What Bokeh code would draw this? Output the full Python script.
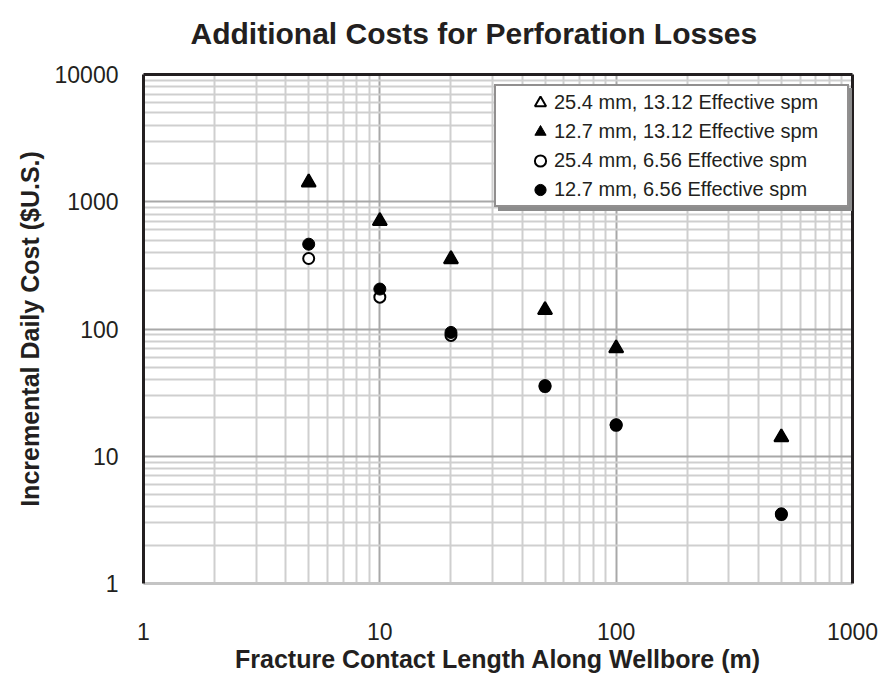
from bokeh.plotting import figure
from bokeh.models import (Range1d, FixedTicker, LogAxis, Legend, LegendItem,
                          CustomJSTickFormatter)
from bokeh.embed import file_html
from bokeh.resources import INLINE

# ---- data ----
length_m = [5, 10, 20, 50, 100, 500]
cost_254_1312 = [1420, 706, 354, 141, 70.6, 14.1]
cost_127_1312 = [1420, 706, 354, 141, 70.6, 14.1]
cost_254_656 = [358, 178, 89, 35.3, 17.5, 3.48]
cost_127_656 = [464, 206, 94, 35.9, 17.7, 3.53]

series_labels = [
    "25.4 mm, 13.12 Effective spm",
    "12.7 mm, 13.12 Effective spm",
    "25.4 mm, 6.56 Effective spm",
    "12.7 mm, 6.56 Effective spm",
]

x_ticks = [1, 10, 100, 1000]
y_ticks = [1, 10, 100, 1000, 10000]
mantissas = [2, 3, 4, 5, 6, 7, 8, 9]

x_minor = [m * d for d in x_ticks[:-1] for m in mantissas]
y_minor = [m * d for d in y_ticks[:-1] for m in mantissas]

FONT = "Liberation Sans"
DARK = "#231f20"

p = figure(width=883, height=675, x_axis_type="log", y_axis_type="log",
           x_range=Range1d(1, 1000), y_range=Range1d(1, 10000),
           output_backend="svg", toolbar_location=None,
           min_border_left=143, min_border_right=31,
           min_border_top=74, min_border_bottom=91)
p.outline_line_color = None
p.background_fill_color = "white"
p.border_fill_color = "white"

# title
p.title.text = "Additional Costs for Perforation Losses"
p.title.text_font = FONT
p.title.text_font_size = "30px"
p.title.text_font_style = "bold"
p.title.text_color = DARK
p.title.align = "left"
p.title.offset = 47
p.title.standoff = 10

# axes
fmt = CustomJSTickFormatter(code="return tick.toString()")
p.xaxis.ticker = FixedTicker(ticks=x_ticks, minor_ticks=x_minor)
p.yaxis.ticker = FixedTicker(ticks=y_ticks, minor_ticks=y_minor)
for ax in (p.xaxis[0], p.yaxis[0]):
    ax.formatter = fmt
    ax.major_tick_line_color = None
    ax.minor_tick_line_color = None
    ax.major_label_text_font = FONT
    ax.major_label_text_font_size = "23px"
    ax.major_label_text_color = DARK
    ax.axis_label_text_font = FONT
    ax.axis_label_text_font_size = "25px"
    ax.axis_label_text_font_style = "bold"
    ax.axis_label_text_color = DARK
p.xaxis.axis_label = "Fracture Contact Length Along Wellbore (m)"
p.yaxis.axis_label = "Incremental Daily Cost ($U.S.)"
p.yaxis.axis_line_color = DARK
p.yaxis.axis_line_width = 3
p.xaxis.axis_line_color = "#c4c4c4"
p.xaxis.axis_line_width = 3
p.yaxis.major_label_standoff = 19
p.xaxis.major_label_standoff = 33
p.yaxis.axis_label_standoff = 8
p.xaxis.axis_label_standoff = 2

# top and right frame lines (the top one also spaces the title off the frame)
top_ax = LogAxis(ticker=FixedTicker(ticks=[]), axis_line_color=DARK, axis_line_width=3,
                 major_tick_line_color=None, minor_tick_line_color=None,
                 axis_label=" ", axis_label_text_font_size="16px",
                 axis_label_standoff=0)
right_ax = LogAxis(ticker=FixedTicker(ticks=[]), axis_line_color=DARK, axis_line_width=3,
                   major_tick_line_color=None, minor_tick_line_color=None)
p.add_layout(top_ax, "above")
p.add_layout(right_ax, "right")

# grids
for g in (p.xgrid[0], p.ygrid[0]):
    g.grid_line_color = "#a8a8a8"
    g.grid_line_width = 2
    g.minor_grid_line_color = "#cfcfcf"
    g.minor_grid_line_width = 2

# series
r1 = p.scatter(length_m, cost_254_1312, marker="triangle", size=14,
               fill_color="white", line_color="black", line_width=2)
r2 = p.scatter(length_m, cost_127_1312, marker="triangle", size=14,
               fill_color="black", line_color="black", line_width=1)
r3 = p.scatter(length_m, cost_254_656, marker="circle", size=11,
               fill_color="white", line_color="black", line_width=2)
r4 = p.scatter(length_m, cost_127_656, marker="circle", size=12,
               fill_color="black", line_color="black", line_width=1)
renderers = [r1, r2, r3, r4]

# invisible renderer used only to give the legend frame boxes an item
blank = p.scatter(x=[], y=[], marker="circle", size=1, fill_alpha=0, line_alpha=0)

box_style = dict(margin=0, padding=1, spacing=0, glyph_width=10, glyph_height=117,
                 label_width=339, label_height=16, label_standoff=0,
                 label_text_font=FONT, label_text_font_size="12px",
                 border_line_width=2, background_fill_alpha=1.0)

# drop shadow and frame box of the legend
shadow = Legend(items=[LegendItem(label=" ", renderers=[blank])], location=(355, 372),
                border_line_color="#8c8c8c", background_fill_color="#8c8c8c", **box_style)
box = Legend(items=[LegendItem(label=" ", renderers=[blank])], location=(351, 376),
             border_line_color=DARK, background_fill_color="white", **box_style)
legend = Legend(items=[LegendItem(label=lab, renderers=[r]) for lab, r in zip(series_labels, renderers)],
                location=(383, 379), margin=0, padding=0, spacing=0,
                glyph_width=28, glyph_height=29, label_height=29, label_standoff=0,
                label_text_font=FONT, label_text_font_size="20px", label_text_color=DARK,
                border_line_color=None, background_fill_alpha=0.0)
p.add_layout(shadow, "center")
p.add_layout(box, "center")
p.add_layout(legend, "center")

open("out.html", "w").write(file_html(p, INLINE))
